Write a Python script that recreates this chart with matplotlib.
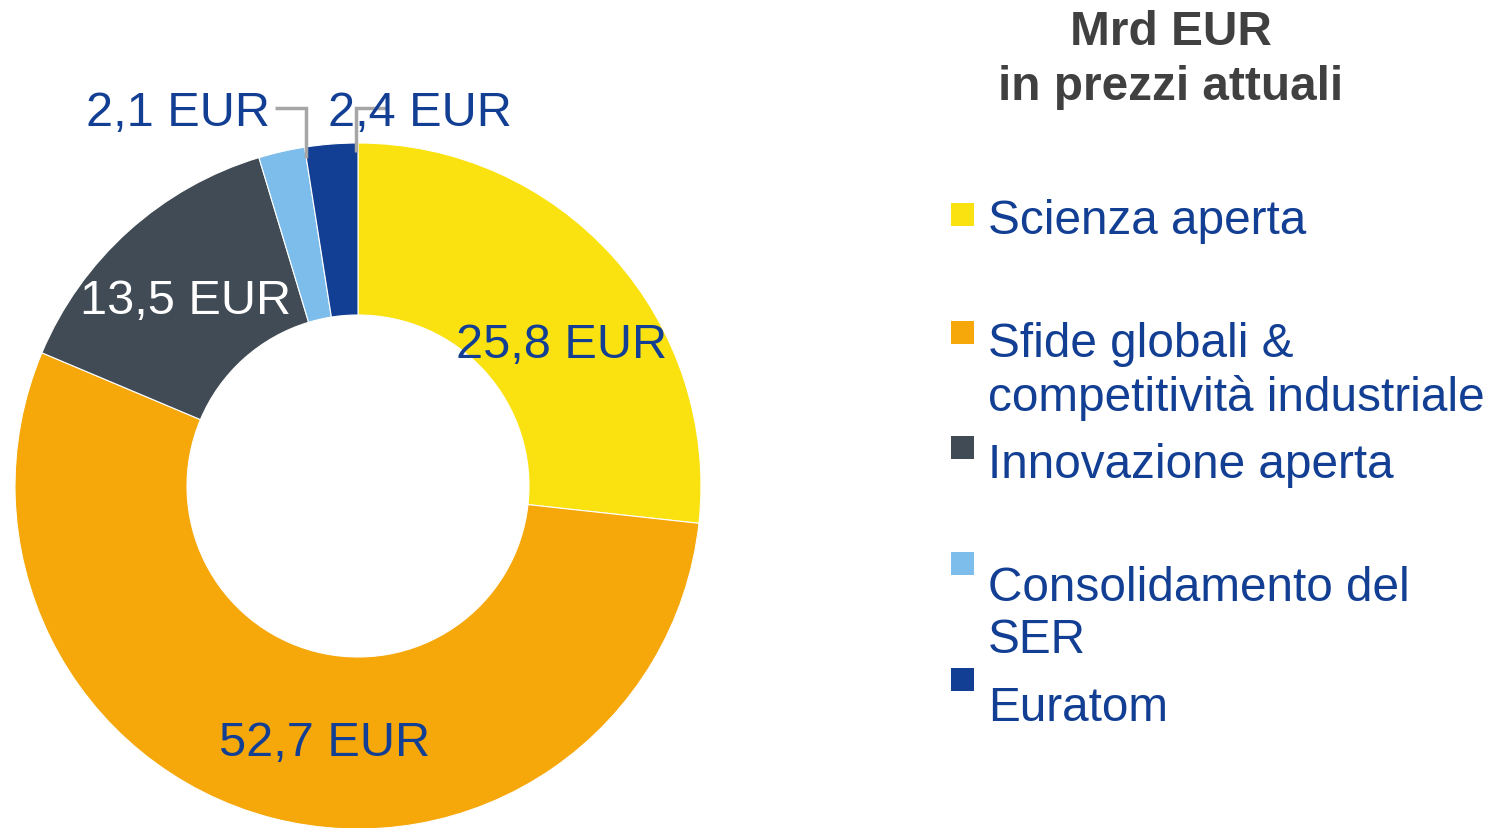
import matplotlib
matplotlib.use("Agg")
import matplotlib.pyplot as plt
from matplotlib.patches import Rectangle

plt.rcParams['font.family'] = ['Liberation Sans', 'DejaVu Sans']

categories = ["Scienza aperta", "Sfide globali &\ncompetitività industriale",
              "Innovazione aperta", "Consolidamento del\nSER", "Euratom"]
values = [25.8, 52.7, 13.5, 2.1, 2.4]
value_labels = ["25,8 EUR", "52,7 EUR", "13,5 EUR", "2,1 EUR", "2,4 EUR"]
colors = ["#FAE211", "#F6A709", "#404B55", "#7DBDEB", "#123F93"]
title_lines = ["Mrd EUR", "in prezzi attuali"]

W, H = 1503, 829
fig = plt.figure(figsize=(W / 100, H / 100), dpi=100)
ax = fig.add_axes([0, 0, 1, 1])

cx, cy, R = 358, H - 487, 343
ax.pie(values, colors=colors, startangle=90, counterclock=False,
       center=(cx, cy), radius=R,
       wedgeprops=dict(width=172, edgecolor="white", linewidth=0.8))
ax.set_xlim(0, W)
ax.set_ylim(0, H)
ax.set_aspect("equal")
ax.axis("off")

blue = "#123F93"
lbl_fs = 35
# data labels
ax.text(562, H - 346, value_labels[0], color=blue, fontsize=lbl_fs, ha="center", va="center")
ax.text(325, H - 744, value_labels[1], color=blue, fontsize=lbl_fs, ha="center", va="center")
ax.text(186, H - 302, value_labels[2], color="white", fontsize=lbl_fs, ha="center", va="center")
ax.text(178, H - 114, value_labels[3], color=blue, fontsize=lbl_fs, ha="center", va="center")
ax.text(420, H - 114, value_labels[4], color=blue, fontsize=lbl_fs, ha="center", va="center")

# leader lines
grey = "#A6A6A6"
ax.plot([275, 306, 306], [H - 109, H - 109, H - 159], color=grey, lw=2.5,
        solid_capstyle="butt", solid_joinstyle="miter")
ax.plot([356, 356, 386], [H - 153, H - 109, H - 109], color=grey, lw=2.5,
        solid_capstyle="butt", solid_joinstyle="miter")

# title
for line, ty in zip(title_lines, [32, 88]):
    ax.text(1171, H - ty, line, color="#404040", fontsize=34.4, fontweight="bold",
            ha="center", va="center")

# legend
sq_y = [215, 333, 448, 564, 680]
txt_y = [221, 371.5, 466, 614.5, 709]
for c, lab, sy, ty in zip(colors, categories, sq_y, txt_y):
    ax.add_patch(Rectangle((951, H - sy - 11.5), 23, 23, facecolor=c, edgecolor="none"))
    ax.text(988, H - ty, lab, color=blue, fontsize=34.4, ha="left", va="center",
            linespacing=1.2)

fig.savefig("out.png", dpi=100)
